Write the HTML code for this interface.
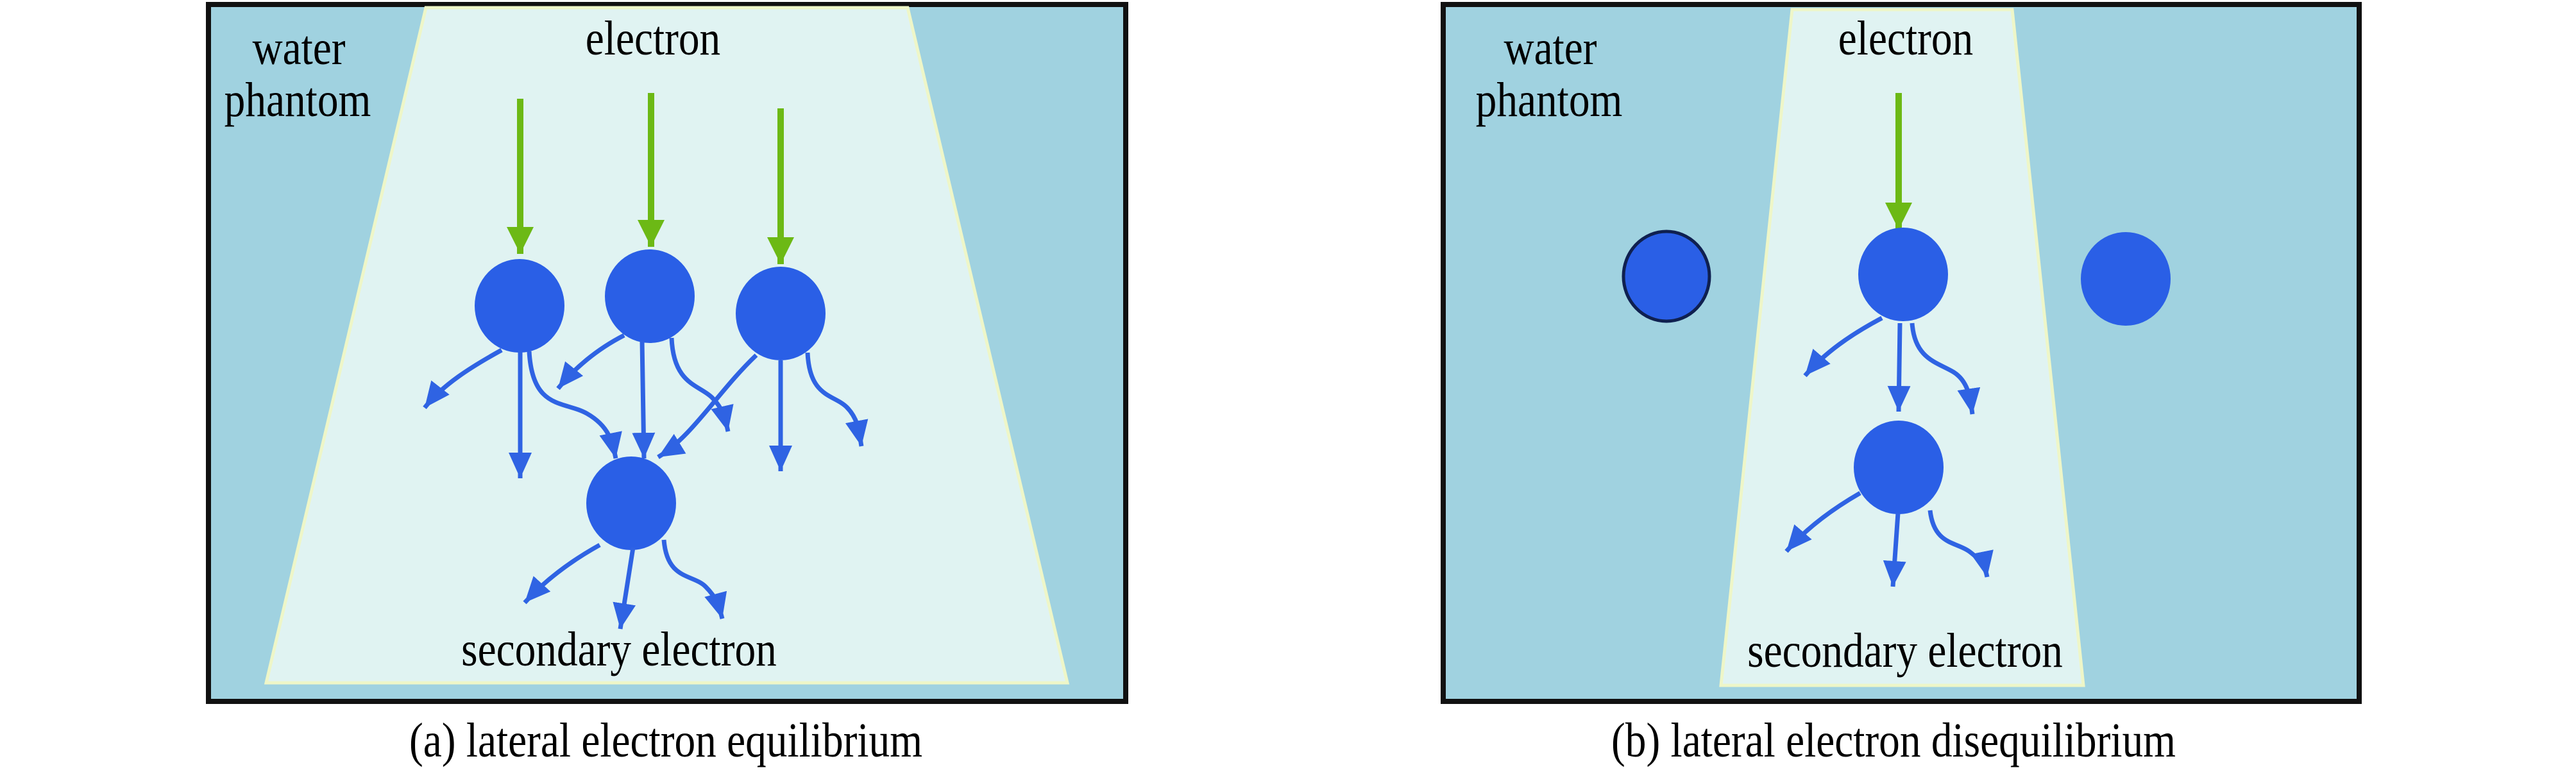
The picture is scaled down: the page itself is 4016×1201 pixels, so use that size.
<!DOCTYPE html>
<html><head><meta charset="utf-8"><style>
html,body{margin:0;padding:0;background:#fff;}
svg{display:block;}
text{font-family:"Liberation Serif","Times New Roman",serif;font-size:76px;fill:#000;}
</style></head><body>
<svg width="4016" height="1201" viewBox="0 0 4016 1201" xmlns="http://www.w3.org/2000/svg">
<defs>
<marker id="b" markerUnits="userSpaceOnUse" markerWidth="50" markerHeight="50" refX="40" refY="18" orient="auto" viewBox="0 0 50 50">
<path d="M0,0 L40,18 L0,36 z" fill="#2f63e3"/></marker>
<marker id="g" markerUnits="userSpaceOnUse" markerWidth="50" markerHeight="50" refX="42" refY="21" orient="auto" viewBox="0 0 50 50">
<path d="M0,0 L42,21 L0,42 z" fill="#6cb915"/></marker>
</defs>
<!-- left panel -->
<rect x="325" y="7" width="1430" height="1087" fill="#a0d2e0" stroke="#111" stroke-width="8"/>
<polygon points="664,12 1415,12 1664,1065 415,1065" fill="#e0f3f2" stroke="#eef6c8" stroke-width="5"/>
<text transform="translate(466,100) scale(0.86,1)" text-anchor="middle">water</text>
<text transform="translate(464,181) scale(0.86,1)" text-anchor="middle">phantom</text>
<text transform="translate(1018,85) scale(0.86,1)" text-anchor="middle">electron</text>
<g stroke="#6cb915" stroke-width="10" fill="none" marker-end="url(#g)">
<path d="M811,154 L811,396"/><path d="M1015,145 L1015,385"/><path d="M1217,169 L1217,412"/>
</g>
<g fill="#2a5fe6">
<ellipse cx="810" cy="477" rx="70" ry="73"/><ellipse cx="1013" cy="462" rx="70" ry="73"/>
<ellipse cx="1217" cy="489" rx="70" ry="73"/><ellipse cx="984" cy="785" rx="70" ry="73"/>
</g>
<g stroke="#2f63e3" stroke-width="7" fill="none" marker-end="url(#b)">
<path d="M782,546 C735,572 690,600 662,636"/>
<path d="M811,546 L811,746"/>
<path d="M825,548 C830,640 880,625 915,645 S955,690 960,715"/>
<path d="M973,523 C930,545 895,575 870,606"/>
<path d="M1001,531 L1004,715"/>
<path d="M1047,527 C1050,600 1090,600 1110,620 S1132,660 1135,673"/>
<path d="M1179,554 C1120,610 1080,680 1026,713"/>
<path d="M1217,562 L1217,735"/>
<path d="M1259,550 C1262,620 1300,615 1320,635 S1340,680 1343,696"/>
<path d="M935,850 C890,875 850,905 818,940"/>
<path d="M987,854 L967,981"/>
<path d="M1035,842 C1040,905 1080,895 1100,915 S1122,950 1126,965"/>
</g>
<text transform="translate(965,1038) scale(0.86,1)" text-anchor="middle">secondary electron</text>
<text transform="translate(1038,1180) scale(0.86,1)" text-anchor="middle">(a) lateral electron equilibrium</text>
<!-- right panel -->
<rect x="2250" y="7" width="1428" height="1087" fill="#a0d2e0" stroke="#111" stroke-width="8"/>
<polygon points="2794,15 3137,15 3248,1069 2683,1069" fill="#e0f3f2" stroke="#eef6c8" stroke-width="5"/>
<text transform="translate(2417,100) scale(0.86,1)" text-anchor="middle">water</text>
<text transform="translate(2415,181) scale(0.86,1)" text-anchor="middle">phantom</text>
<text transform="translate(2971,85) scale(0.86,1)" text-anchor="middle">electron</text>
<path d="M2960,145 L2960,358" stroke="#6cb915" stroke-width="10" fill="none" marker-end="url(#g)"/>
<ellipse cx="2598" cy="431" rx="67" ry="70" fill="#2a5fe6" stroke="#0f2050" stroke-width="5"/>
<g fill="#2a5fe6">
<ellipse cx="2967" cy="428" rx="70" ry="73"/><ellipse cx="3314" cy="435" rx="70" ry="73"/>
<ellipse cx="2960" cy="729" rx="70" ry="73"/>
</g>
<g stroke="#2f63e3" stroke-width="7" fill="none" marker-end="url(#b)">
<path d="M2934,496 C2885,522 2845,550 2814,586"/>
<path d="M2962,504 L2960,642"/>
<path d="M2981,504 C2985,560 3020,565 3045,580 S3072,625 3075,646"/>
<path d="M2900,769 C2855,795 2815,825 2785,860"/>
<path d="M2959,800 L2951,915"/>
<path d="M3009,796 C3015,850 3050,845 3070,860 S3095,885 3098,900"/>
</g>
<text transform="translate(2970,1040) scale(0.86,1)" text-anchor="middle">secondary electron</text>
<text transform="translate(2952,1180) scale(0.86,1)" text-anchor="middle">(b) lateral electron disequilibrium</text>
</svg>
</body></html>
